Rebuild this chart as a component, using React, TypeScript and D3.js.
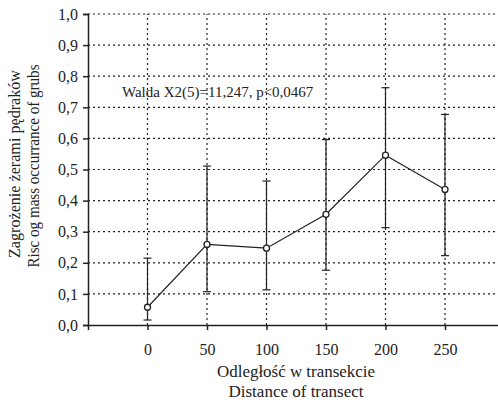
import React, { useEffect, useRef } from 'react';
import * as d3 from 'd3';

// distance along the transect and grub occurrence risk (mean with CI)
const distances = [0, 50, 100, 150, 200, 250];
const means = [0.057, 0.259, 0.247, 0.356, 0.546, 0.436];
const upper = [0.215, 0.511, 0.463, 0.596, 0.763, 0.677];
const lower = [0.016, 0.107, 0.113, 0.176, 0.313, 0.223];
const yTicks = [0, 0.1, 0.2, 0.3, 0.4, 0.5, 0.6, 0.7, 0.8, 0.9, 1.0];

const App: React.FC = () => {
  const svgRef = useRef<SVGSVGElement | null>(null);

  const width = 498;
  const height = 403;
  const margin = { top: 14, left: 88, bottom: 78 };

  useEffect(() => {
    const svg = d3.select(svgRef.current);
    svg.selectAll('*').remove();

    const font = '"Liberation Serif", "Times New Roman", serif';
    const ink = '#222';

    // x scale: -50 sits on the y axis
    const x = d3.scaleLinear().domain([-50, 300]).range([margin.left, margin.left + 59.5 * 7]);
    const y = d3.scaleLinear().domain([0, 1]).range([height - margin.bottom, margin.top]);

    const g = svg.append('g');

    // horizontal dotted grid
    g.selectAll('.hgrid')
      .data(yTicks.filter((d) => d > 0))
      .join('line')
      .attr('x1', margin.left)
      .attr('x2', width)
      .attr('y1', (d) => y(d))
      .attr('y2', (d) => y(d))
      .style('stroke', ink)
      .style('stroke-width', 1.2)
      .style('stroke-dasharray', '2,3');

    // vertical dotted grid at each distance
    g.selectAll('.vgrid')
      .data(distances)
      .join('line')
      .attr('x1', (d) => x(d))
      .attr('x2', (d) => x(d))
      .attr('y1', y(0))
      .attr('y2', y(1))
      .style('stroke', ink)
      .style('stroke-width', 1.2)
      .style('stroke-dasharray', '2,3');

    // y axis
    g.append('g')
      .attr('transform', `translate(${margin.left},0)`)
      .call(
        d3
          .axisLeft(y)
          .tickValues(yTicks)
          .tickSize(5)
          .tickPadding(5)
          .tickFormat((d) => d3.format('.1f')(Number(d)).replace('.', ',')),
      )
      .call((a) => a.select('.domain').attr('stroke', ink).attr('stroke-width', 1.5))
      .call((a) => a.selectAll('.tick line').attr('stroke', ink).attr('stroke-width', 1.5))
      .call((a) =>
        a.selectAll('.tick text').style('font-family', font).style('font-size', '16px').attr('fill', ink),
      );

    // x axis
    g.append('g')
      .attr('transform', `translate(0,${y(0)})`)
      .call(d3.axisBottom(x).tickValues([-50, ...distances]).tickSize(5).tickPadding(14).tickSizeOuter(0))
      .call((a) => a.select('.domain').attr('stroke', ink).attr('stroke-width', 1.5))
      .call((a) => a.selectAll('.tick line').attr('stroke', ink).attr('stroke-width', 1.5))
      .call((a) =>
        a
          .selectAll('.tick text')
          .style('font-family', font)
          .style('font-size', '16px')
          .attr('fill', ink)
          .text((d) => (Number(d) < 0 ? '' : String(d))),
      );

    // error bars
    const cap = 4;
    distances.forEach((d, i) => {
      g.append('line')
        .attr('x1', x(d))
        .attr('x2', x(d))
        .attr('y1', y(lower[i]))
        .attr('y2', y(upper[i]))
        .style('stroke', ink)
        .style('stroke-width', 1.2);
      [lower[i], upper[i]].forEach((v) => {
        g.append('line')
          .attr('x1', x(d) - cap)
          .attr('x2', x(d) + cap)
          .attr('y1', y(v))
          .attr('y2', y(v))
          .style('stroke', ink)
          .style('stroke-width', 1.2);
      });
    });

    // mean line
    const line = d3
      .line<number>()
      .x((d, i) => x(distances[i]))
      .y((d) => y(d));
    g.append('path')
      .datum(means)
      .attr('d', line)
      .style('fill', 'none')
      .style('stroke', ink)
      .style('stroke-width', 1.2);

    g.selectAll('.pt')
      .data(means)
      .join('circle')
      .attr('cx', (d, i) => x(distances[i]))
      .attr('cy', (d) => y(d))
      .attr('r', 3)
      .style('fill', '#fff')
      .style('stroke', ink)
      .style('stroke-width', 1.3);

    // annotation
    g.append('text')
      .attr('x', 122)
      .attr('y', 97)
      .style('font-family', font)
      .style('font-size', '15px')
      .attr('fill', ink)
      .text('Walda X2(5)=11,247, p<0,0467');

    // x titles
    const xc = 296;
    [
      { t: 'Odległość w transekcie', by: 377, len: 158 },
      { t: 'Distance of transect', by: 397, len: 135 },
    ].forEach(({ t, by, len }) => {
      g.append('text')
        .attr('x', xc)
        .attr('y', by)
        .attr('text-anchor', 'middle')
        .attr('textLength', len)
        .attr('lengthAdjust', 'spacingAndGlyphs')
        .style('font-family', font)
        .style('font-size', '17px')
        .attr('fill', ink)
        .text(t);
    });

    // y titles
    [
      { t: 'Zagrożenie żerami pędraków', bx: 20, yc: 164, len: 188 },
      { t: 'Risc og mass occurrance of grubs', bx: 39, yc: 166, len: 203 },
    ].forEach(({ t, bx, yc, len }) => {
      g.append('text')
        .attr('transform', `translate(${bx},${yc}) rotate(-90)`)
        .attr('text-anchor', 'middle')
        .attr('textLength', len)
        .attr('lengthAdjust', 'spacingAndGlyphs')
        .style('font-family', font)
        .style('font-size', '17px')
        .attr('fill', ink)
        .text(t);
    });
  });

  return (
    <svg
      ref={svgRef}
      width={width}
      height={height}
      style={{ position: 'absolute', left: 0, top: 0, background: '#fff' }}
    ></svg>
  );
};

export default App;
